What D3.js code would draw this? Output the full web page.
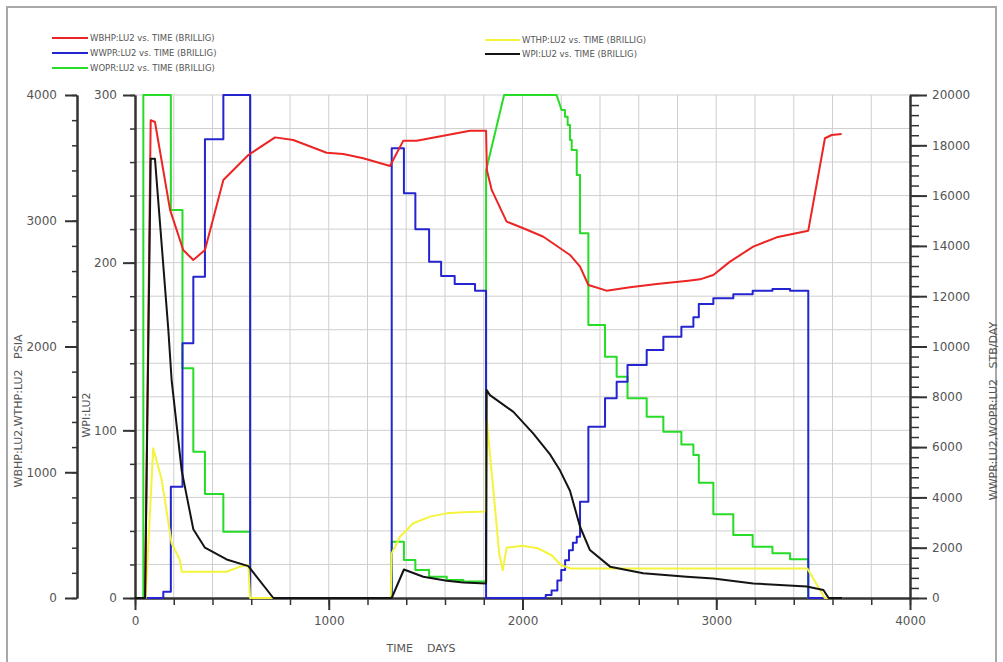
<!DOCTYPE html>
<html>
<head>
<meta charset="utf-8">
<script src="https://cdn.jsdelivr.net/npm/d3@7"></script>
<style>
  body { margin: 0; background: #fff; }
  text { font-family: "DejaVu Sans", sans-serif; fill: #555; }
</style>
</head>
<body>
<script>
// ---- data: [days, value] ----
const wbhp = [[0,0],[52,0],[81,3800],[103,3785],[181,3086],[249,2767],[301,2688],[361,2767],[456,3324],
  [585,3523],[723,3663],[817,3642],[989,3541],[1075,3531],[1178,3497],[1316,3435],[1385,3637],[1454,3637],
  [1523,3656],[1729,3716],[1812,3716],[1816,3404],[1841,3245],[1918,2993],[2004,2940],[2108,2873],[2245,2728],
  [2297,2635],[2340,2489],[2434,2444],[2555,2471],[2693,2497],[2856,2523],[2916,2534],[2985,2569],[3071,2675],
  [3191,2794],[3312,2868],[3475,2921],[3561,3656],[3596,3682],[3647,3690]];

const wthp = [[0,0],[55,0],[94,1190],[138,938],[189,435],[232,302],[241,209],[473,209],[542,249],[585,262],
  [594,0],[1320,0],[1325,355],[1368,487],[1436,594],[1523,647],[1609,673],[1695,681],[1812,687],[1816,1410],
  [1850,850],[1880,350],[1898,220],[1918,400],[2000,415],[2080,395],[2150,340],[2200,260],[2250,235],
  [3470,235],[3560,0],[3650,0]];

const wpi = [[0,0],[52,0],[81,262],[103,262],[172,160],[189,130],[241,76],[301,41],[361,30],[473,23],[585,19],
  [714,0],[1325,0],[1388,17],[1488,12.7],[1609,10.3],[1695,9.3],[1812,8.7],[1815,124],[1832,121],[1953,111],
  [2056,98],[2140,86],[2194,76],[2245,64],[2297,42.5],[2348,28.6],[2452,18.7],[2623,14.7],[2847,12.7],
  [2985,11.7],[3191,8.7],[3467,6.8],[3553,4.8],[3580,0],[3650,0]];

// rates are step values (value holds from that day on); a third entry "ramp" means a straight run to it
const wwpr = [[0,0],[146,250],[185,4425],[245,10127],[301,12776],[361,18237],[456,22000],[594,0],
  [1325,17880],[1388,16090],[1447,14660],[1518,13370],[1580,12800],[1650,12485],[1755,12220],[1812,0],
  [2120,120],[2150,300],[2180,700],[2200,1110],[2220,1500],[2240,1900],[2260,2200],[2280,2440],[2297,3830],
  [2340,6812],[2426,7940],[2486,8600],[2542,9264],[2641,9861],[2727,10390],[2820,10787],[2882,11160],
  [2910,11690],[2985,11915],[3088,12075],[3188,12220],[3290,12290],[3381,12220],[3475,0],[3650,0]];

const wopr = [[0,0],[43,22000],[185,15427],[245,9133],[301,5817],[361,4135],[456,2637],[594,0],
  [1325,2240],[1388,1511],[1447,1113],[1518,848],[1609,720],[1695,660],[1812,17000],[1905,20000,"ramp"],
  [1906,22000],[2176,22000],[2202,19400,"ramp"],[2219,19140],[2233,18807],
  [2245,18211],[2254,17813],[2280,16819],[2297,14500],[2340,10855],[2426,9594],[2486,8800],[2542,7940],
  [2641,7210],[2727,6613],[2820,6100],[2882,5686],[2910,4585],[2985,3327],[3088,2505],[3188,2040],
  [3290,1775],[3381,1538],[3475,0],[3650,0]];

const legendLeft = ["WBHP:LU2 vs. TIME (BRILLIG)", "WWPR:LU2 vs. TIME (BRILLIG)", "WOPR:LU2 vs. TIME (BRILLIG)"];
const legendRight = ["WTHP:LU2 vs. TIME (BRILLIG)", "WPI:LU2 vs. TIME (BRILLIG)"];
const xTicks = [0, 1000, 2000, 3000, 4000];
const pTicks = [0, 1000, 2000, 3000, 4000];
const wpiTicks = [0, 100, 200, 300];
const rateTicks = [0, 2000, 4000, 6000, 8000, 10000, 12000, 14000, 16000, 18000, 20000];

const col = { red: "#ec2424", blue: "#2424d0", green: "#26dc26", yellow: "#f4f43c", black: "#141414" };

const W = 1003, H = 662;
const plot = { left: 135, right: 910, top: 95, bottom: 598 };

const x = d3.scaleLinear().domain([0, 4000]).range([plot.left, plot.right]);
const yP = d3.scaleLinear().domain([0, 4000]).range([plot.bottom, plot.top]).clamp(true);
const yW = d3.scaleLinear().domain([0, 300]).range([plot.bottom, plot.top]).clamp(true);
const yR = d3.scaleLinear().domain([0, 20000]).range([plot.bottom, plot.top]).clamp(true);

// expand step data into corner points
function stepCorners(data) {
  const out = [[data[0][0], data[0][1]]];
  for (let i = 1; i < data.length; i++) {
    const d = data[i];
    if (d[2] !== "ramp") out.push([d[0], data[i - 1][1]]);
    out.push([d[0], d[1]]);
  }
  return out;
}

const svg = d3.select("body").append("svg")
    .attr("width", W)
    .attr("height", H);

// outer frame
svg.append("rect")
    .attr("x", 7).attr("y", 7)
    .attr("width", W - 14).attr("height", H)
    .attr("fill", "none")
    .attr("stroke", "#a8a8a8")
    .attr("stroke-width", 2);

// grid
const grid = svg.append("g").attr("stroke", "#cfcfcf").attr("stroke-width", 1);
grid.selectAll(".gx")
    .data(d3.range(200, 4000, 200))
  .enter().append("line")
    .attr("x1", d => x(d)).attr("x2", d => x(d))
    .attr("y1", plot.top).attr("y2", plot.bottom);
grid.selectAll(".gy")
    .data(d3.range(20, 301, 20))
  .enter().append("line")
    .attr("x1", plot.left).attr("x2", plot.right)
    .attr("y1", d => yW(d)).attr("y2", d => yW(d));

// axes
function styleAxis(g, w) {
  g.select(".domain").attr("stroke", "#333").attr("stroke-width", 2);
  g.selectAll(".tick line").attr("stroke", "#333").attr("stroke-width", w);
  g.selectAll("text").style("font-family", "DejaVu Sans").style("font-size", "12px").attr("fill", "#555");
}

function axisPair(make, scale, majors, step, maxV, bigSize, smallSize, pad, tx, ty) {
  const minor = svg.append("g").attr("transform", `translate(${tx},${ty})`)
      .call(make(scale).tickValues(d3.range(0, maxV + 1, step)).tickSize(smallSize).tickSizeOuter(0).tickFormat(""));
  styleAxis(minor, 1.5);
  const major = svg.append("g").attr("transform", `translate(${tx},${ty})`)
      .call(make(scale).tickValues(majors).tickSize(bigSize).tickSizeOuter(0).tickPadding(pad).tickFormat(d3.format("d")));
  styleAxis(major, 2);
}

axisPair(d3.axisLeft, yP, pTicks, 200, 4000, 12, 5, 8, 77, 0);
axisPair(d3.axisLeft, yW, wpiTicks, 20, 300, 12, 5, 6, plot.left, 0);
axisPair(d3.axisRight, yR, rateTicks, 400, 20000, 17, 9, 5, plot.right, 0);
axisPair(d3.axisBottom, x, xTicks, 200, 4000, 12, 7, 6, 0, plot.bottom);

// curves
const lineP = d3.line().x(d => x(d[0])).y(d => yP(d[1]));
const lineW = d3.line().x(d => x(d[0])).y(d => yW(d[1]));
const lineR = d3.line().x(d => x(d[0])).y(d => yR(d[1]));

const curves = svg.append("g").attr("fill", "none").attr("stroke-width", 2).attr("stroke-linejoin", "round");
curves.append("path").datum(stepCorners(wopr)).attr("d", lineR).attr("stroke", col.green);
curves.append("path").datum(stepCorners(wwpr)).attr("d", lineR).attr("stroke", col.blue);
curves.append("path").datum(wthp).attr("d", lineP).attr("stroke", col.yellow);
curves.append("path").datum(wbhp).attr("d", lineP).attr("stroke", col.red);
curves.append("path").datum(wpi).attr("d", lineW).attr("stroke", col.black);

// legend
const legend = svg.append("g").style("font-size", "8.5px");
const legendColsL = [col.red, col.blue, col.green];
const legendColsR = [col.yellow, col.black];
legendLeft.forEach((t, i) => {
  const yy = 38 + i * 15;
  legend.append("line").attr("x1", 52).attr("x2", 88).attr("y1", yy).attr("y2", yy)
      .attr("stroke", legendColsL[i]).attr("stroke-width", 2);
  legend.append("text").attr("x", 90).attr("y", yy).attr("dy", "0.35em").text(t);
});
legendRight.forEach((t, i) => {
  const yy = 40 + i * 14;
  legend.append("line").attr("x1", 485).attr("x2", 520).attr("y1", yy).attr("y2", yy)
      .attr("stroke", legendColsR[i]).attr("stroke-width", 2);
  legend.append("text").attr("x", 522).attr("y", yy).attr("dy", "0.35em").text(t);
});

// axis titles
function title(txt, tx, ty, rot) {
  svg.append("text")
      .attr("transform", `translate(${tx},${ty})` + (rot ? " rotate(-90)" : ""))
      .attr("text-anchor", "middle")
      .attr("dy", "0.35em")
      .style("font-size", "11px")
      .style("white-space", "pre")
      .text(txt);
}
title("WBHP:LU2,WTHP:LU2   PSIA", 18, 411, true);
title("WPI:LU2", 86, 415, true);
title("WWPR:LU2,WOPR:LU2   STB/DAY", 993, 411, true);
title("TIME    DAYS", 421, 648, false);
</script>
</body>
</html>
